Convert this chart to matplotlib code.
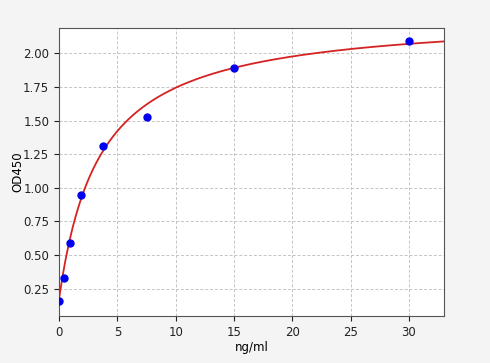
import numpy as np
import matplotlib
matplotlib.use('Agg')
import matplotlib.pyplot as plt

# standard points
conc = [0, 0.47, 0.94, 1.88, 3.75, 7.5, 15, 30]
od = [0.16, 0.33, 0.59, 0.95, 1.31, 1.53, 1.89, 2.09]

# 4PL fit parameters
fit_a = 0.17
fit_b = 1.0
fit_c = 3.47
fit_d = 2.29


def four_pl(x):
    return fit_d + (fit_a - fit_d) / (1 + (x / fit_c) ** fit_b)


fig = plt.figure(figsize=(4.9, 3.63), dpi=100, facecolor='#f4f4f4')
ax = fig.add_axes([59 / 490, 1 - 316 / 363, 385 / 490, 288 / 363])

xs = np.linspace(0, 33, 400)
ax.plot(xs, four_pl(xs), color='#d62222', lw=1.3, zorder=2)
ax.plot(conc, od, 'o', color='#0000f0', ms=5, zorder=3)

ax.set_xlim(0, 33)
ax.set_ylim(0.047, 2.188)
ax.set_xticks([0, 5, 10, 15, 20, 25, 30])
ax.set_yticks([0.25, 0.5, 0.75, 1.0, 1.25, 1.5, 1.75, 2.0])
ax.grid(True, linestyle=(0, (3, 2)), color='#c4c4c4', lw=0.7)
ax.set_axisbelow(True)
ax.tick_params(labelsize=8.5, colors='#222222')
ax.set_xlabel('ng/ml', fontsize=8.5, labelpad=2)
ax.set_ylabel('OD450', fontsize=8.5, labelpad=-1)
for s in ax.spines.values():
    s.set_color('#555555')

fig.savefig('out.png', dpi=100, facecolor=fig.get_facecolor())
